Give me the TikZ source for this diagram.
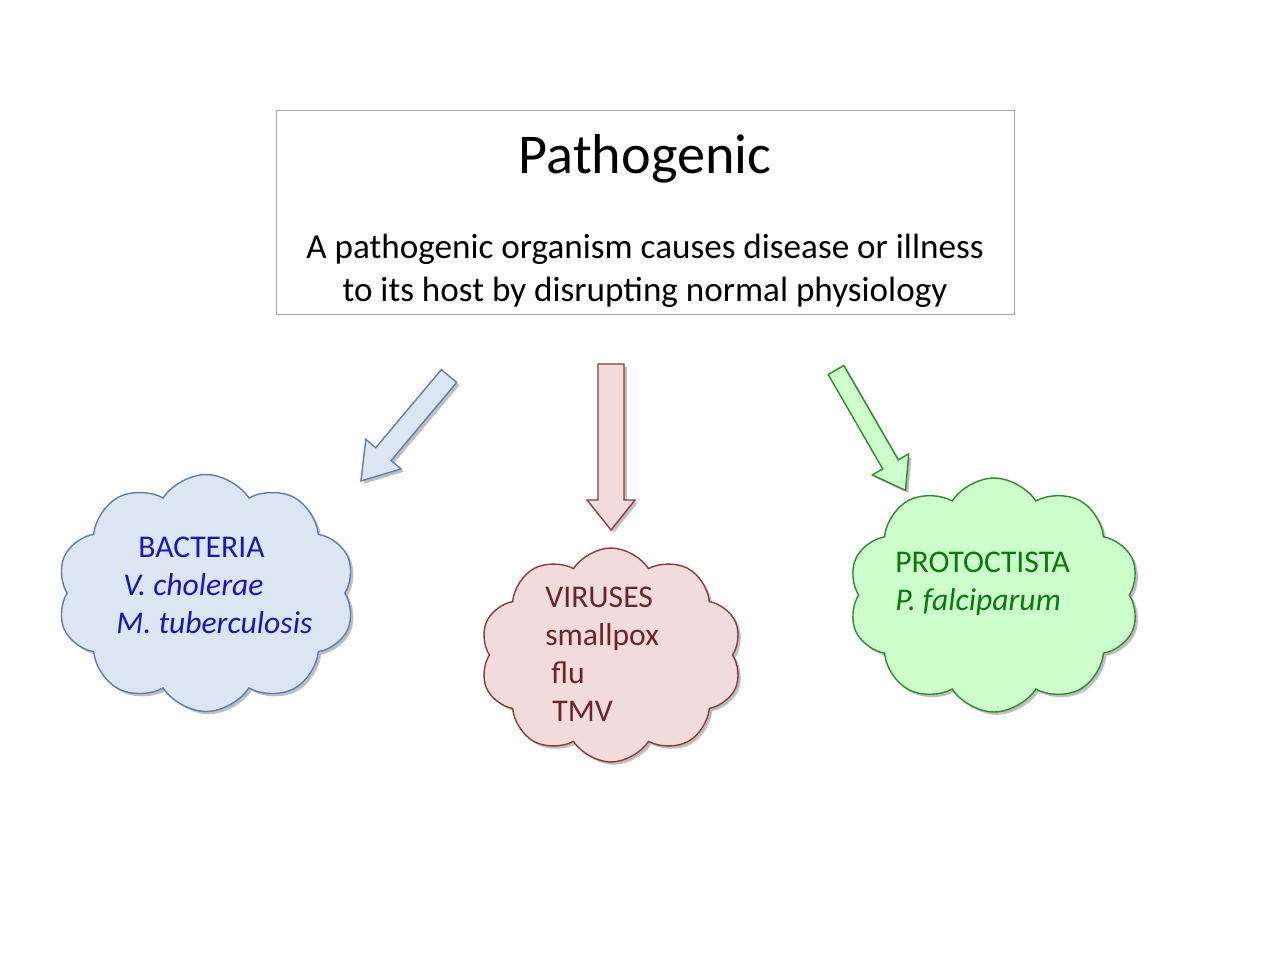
\documentclass[tikz,border=0pt]{standalone}
\usepackage{fontspec}
\setmainfont{Carlito}
\usetikzlibrary{shapes.symbols,shadows}

\definecolor{bactfill}{HTML}{DCE6F2}
\definecolor{bactline}{RGB}{92,125,178}
\definecolor{bacttext}{RGB}{24,24,185}
\definecolor{virfill}{HTML}{F2DCDB}
\definecolor{virline}{RGB}{140,58,58}
\definecolor{virtext}{RGB}{105,38,38}
\definecolor{protfill}{HTML}{CCFFCC}
\definecolor{protline}{RGB}{46,136,46}
\definecolor{prottext}{RGB}{10,120,10}

\tikzset{
	softshadow/.style={drop shadow={shadow xshift=1.6pt,shadow yshift=-1.6pt,fill=black,opacity=0.25}},
	cloudbox/.style={cloud,cloud puffs=10,cloud puff arc=115,cloud ignores aspect,draw,line width=0.8pt,softshadow},
	blockarrow/.style={line width=0.8pt,softshadow},
	cloudtxt/.style={anchor=base west,inner sep=0pt,font=\fontsize{18}{21.6}\selectfont},
	deftxt/.style={anchor=base,inner sep=0pt,font=\fontsize{20}{24}\selectfont}
}

\begin{document}
\begin{tikzpicture}[x=0.02cm,y=0.02cm]
			\useasboundingbox[fill=white] (0,0) rectangle (1280,-960);

			\node (defbox) [draw=gray!70,line width=0.5pt,minimum width=14.76cm,minimum height=4.08cm] at (645,-212) {};
			\node (title) [anchor=base,inner sep=0pt,font=\fontsize{32}{38}\selectfont] at (645,-173) {Pathogenic};
			\node (defa) [deftxt] at (645,-258) {A pathogenic organism causes disease or illness};
			\node (defb) [deftxt] at (645,-301) {to its host by disrupting normal physiology};

			\draw[blockarrow,draw=bactline,fill=bactfill,shift={(449,-376)},rotate=230] (0,-10) -- (102,-10) -- (102,-23) -- (137,0) -- (102,23) -- (102,10) -- (0,10) -- cycle;
			\draw[blockarrow,draw=virline,fill=virfill,shift={(611,-364)},rotate=-90] (0,-13) -- (136,-13) -- (136,-24) -- (166,0) -- (136,24) -- (136,13) -- (0,13) -- cycle;
			\draw[blockarrow,draw=protline,fill=protfill,shift={(836,-370)},rotate=-60] (0,-9) -- (109,-9) -- (109,-21) -- (139,0) -- (109,21) -- (109,9) -- (0,9) -- cycle;

			\node (bacteria) [cloudbox,draw=bactline,fill=bactfill,minimum width=5.96cm,minimum height=4.74cm] at (206,-593) {};
			\node (viruses) [cloudbox,draw=virline,fill=virfill,minimum width=5.24cm,minimum height=4.28cm] at (611,-655) {};
			\node (protoctista) [cloudbox,draw=protline,fill=protfill,minimum width=5.82cm,minimum height=4.68cm] at (994,-595) {};

			\node (bacname) [cloudtxt,text=bacttext] at (138,-557) {BACTERIA};
			\node (vchol) [cloudtxt,text=bacttext] at (123,-595) {\itshape V. cholerae};
			\node (mtub) [cloudtxt,text=bacttext] at (116,-633) {\itshape M. tuberculosis};

			\node (virname) [cloudtxt,text=virtext] at (545,-607) {VIRUSES};
			\node (smallpox) [cloudtxt,text=virtext] at (545,-645) {smallpox};
			\node (flu) [cloudtxt,text=virtext] at (551,-683) {flu};
			\node (tmv) [cloudtxt,text=virtext] at (552,-721) {TMV};

			\node (protname) [cloudtxt,text=prottext] at (895,-572) {PROTOCTISTA};
			\node (pfalc) [cloudtxt,text=prottext] at (895,-610) {\itshape P. falciparum};
\end{tikzpicture}
\end{document}
